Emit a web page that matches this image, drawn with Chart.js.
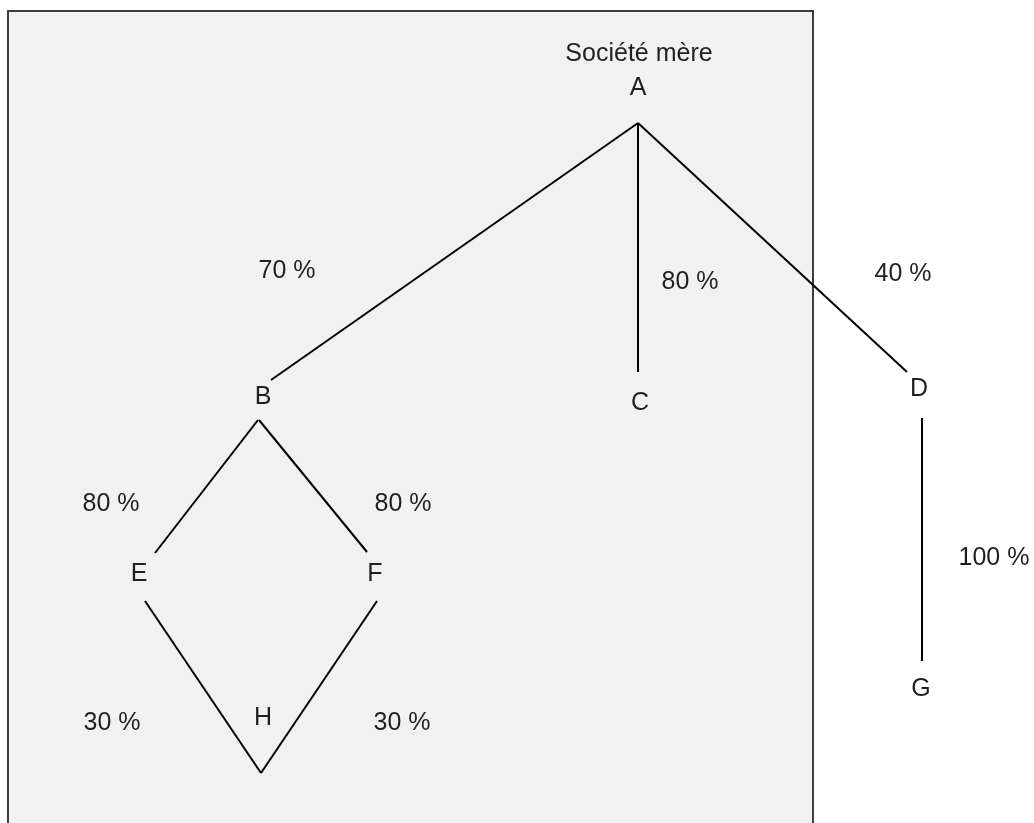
<!DOCTYPE html>
<html>
<head>
<meta charset="utf-8">
<style>
  html, body { margin: 0; padding: 0; background: #ffffff; }
  #wrap { width: 1034px; height: 823px; }
</style>
<script src="https://cdn.jsdelivr.net/npm/chart.js@4"></script>
</head>
<body>
<div id="wrap"><canvas id="c" width="1034" height="823"></canvas></div>
<script>
// ---- Data ----
// Nodes of the shareholding structure (diagram coordinates)
const nodeNames = ['A', 'B', 'C', 'D', 'E', 'F', 'G', 'H'];
const nodeX     = [638, 263, 640, 919, 139, 375, 921, 263];
const nodeY     = [88, 397, 403, 389, 574, 574, 689, 718];
const titleText = 'Société mère';
const titleX = 639, titleY = 54;

// Links: parent -> child, with ownership percentage
const linkFrom   = ['A', 'A', 'A', 'D', 'B', 'B', 'E', 'F'];
const linkTo     = ['B', 'C', 'D', 'G', 'E', 'F', 'H', 'H'];
const linkPct    = [70, 80, 40, 100, 80, 80, 30, 30];
// Link segment endpoints (diagram coordinates)
const segX1 = [638, 638, 638, 922, 258, 259, 145, 377];
const segY1 = [123, 123, 123, 418, 420, 420, 601, 601];
const segX2 = [271, 638, 907, 922, 155, 367, 261, 261];
const segY2 = [380, 372, 372, 661, 553, 552, 773, 773];
// Percentage label positions
const pctX = [287, 690, 903, 994, 111, 403, 112, 402];
const pctY = [271, 282, 274, 558, 504, 504, 723, 723];

// Frame of the group perimeter
const frameX1 = 8, frameY1 = 11, frameX2 = 813, frameY2 = 830;

// ---- Build datasets ----
const datasets = linkFrom.map((f, i) => ({
  label: f + '→' + linkTo[i],
  data: [{x: segX1[i], y: segY1[i]}, {x: segX2[i], y: segY2[i]}],
  showLine: true,
  borderColor: '#000000',
  borderWidth: 2,
  pointRadius: 0,
  fill: false,
  tension: 0
}));

const FONT = '25px "Liberation Sans", Arial, Helvetica, sans-serif';
const TEXT_COLOR = '#231f20';

const framePlugin = {
  id: 'frame',
  beforeDatasetsDraw(chart) {
    const {ctx, scales} = chart;
    const x1 = scales.x.getPixelForValue(frameX1);
    const x2 = scales.x.getPixelForValue(frameX2);
    const y1 = scales.y.getPixelForValue(frameY1);
    const y2 = scales.y.getPixelForValue(frameY2);
    ctx.save();
    ctx.fillStyle = '#f1f1f1';
    ctx.fillRect(x1, y1, x2 - x1, y2 - y1);
    ctx.strokeStyle = '#3c3c3c';
    ctx.lineWidth = 2;
    ctx.strokeRect(x1, y1, x2 - x1, y2 - y1);
    ctx.restore();
  }
};

const labelPlugin = {
  id: 'labels',
  afterDatasetsDraw(chart) {
    const {ctx, scales} = chart;
    ctx.save();
    ctx.font = FONT;
    ctx.fillStyle = TEXT_COLOR;
    ctx.textAlign = 'center';
    ctx.textBaseline = 'middle';
    ctx.fillText(titleText, scales.x.getPixelForValue(titleX), scales.y.getPixelForValue(titleY));
    nodeNames.forEach((n, i) => {
      ctx.fillText(n, scales.x.getPixelForValue(nodeX[i]), scales.y.getPixelForValue(nodeY[i]));
    });
    linkPct.forEach((p, i) => {
      ctx.fillText(p + ' %', scales.x.getPixelForValue(pctX[i]), scales.y.getPixelForValue(pctY[i]));
    });
    ctx.restore();
  }
};

new Chart(document.getElementById('c'), {
  type: 'scatter',
  data: { datasets },
  options: {
    responsive: false,
    animation: false,
    devicePixelRatio: 1,
    layout: { padding: 0 },
    plugins: { legend: { display: false }, tooltip: { enabled: false } },
    scales: {
      x: { type: 'linear', min: 0, max: 1034, display: false },
      y: { type: 'linear', min: 0, max: 823, reverse: true, display: false }
    }
  },
  plugins: [framePlugin, labelPlugin]
});
</script>
</body>
</html>
